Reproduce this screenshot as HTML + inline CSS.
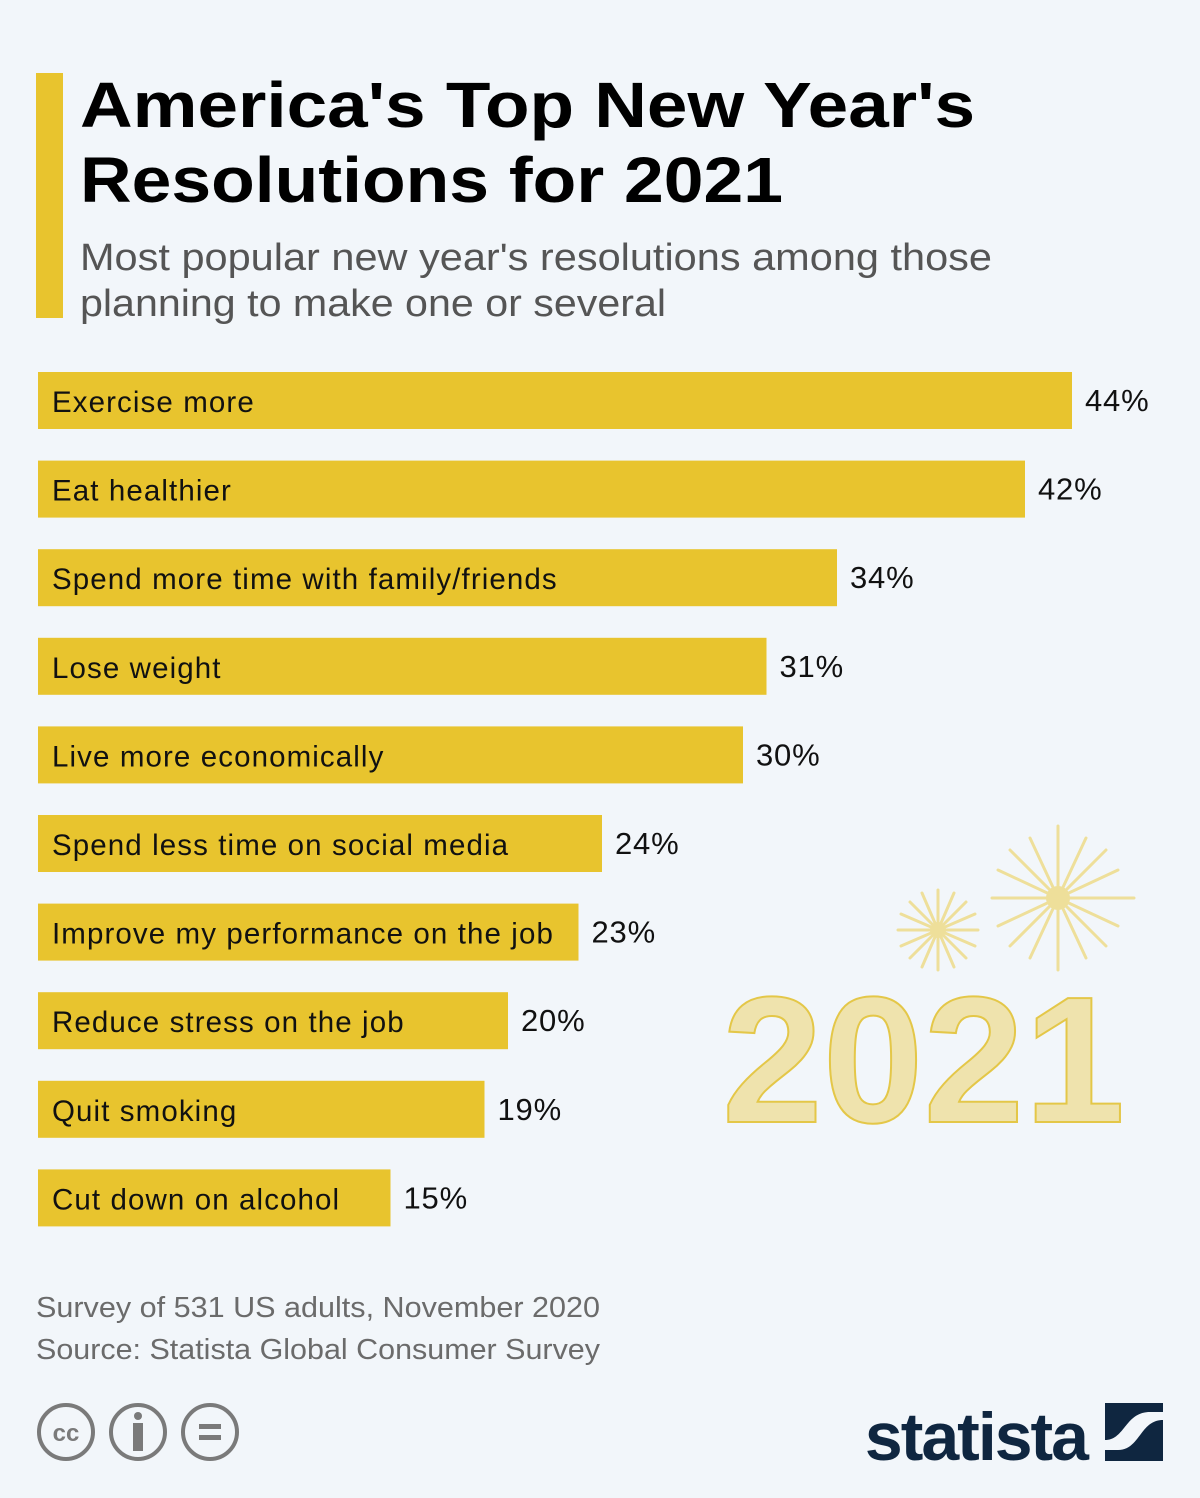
<!DOCTYPE html>
<html><head><meta charset="utf-8"><style>
html,body{margin:0;padding:0;background:#f2f6fa;}
svg{display:block;}
text{font-family:"Liberation Sans","DejaVu Sans",sans-serif;}
</style></head><body>
<svg id="chart" width="1200" height="1498" viewBox="0 0 1200 1498" xmlns="http://www.w3.org/2000/svg">
<rect x="0" y="0" width="1200" height="1498" fill="#f2f6fa"/>
<rect x="36" y="73" width="27" height="245" fill="#e8c42e"/>
<text x="80" y="127" font-size="64" font-weight="bold" fill="#000" textLength="895" lengthAdjust="spacingAndGlyphs">America's Top New Year's</text>
<text x="80" y="202" font-size="64" font-weight="bold" fill="#000" textLength="703" lengthAdjust="spacingAndGlyphs">Resolutions for 2021</text>
<text x="80" y="270" font-size="38" fill="#555" textLength="912" lengthAdjust="spacingAndGlyphs">Most popular new year's resolutions among those</text>
<text x="80" y="316" font-size="38" fill="#555" textLength="586" lengthAdjust="spacingAndGlyphs">planning to make one or several</text>

<g opacity="0.85">
  <g stroke="#eedc8a" stroke-width="3" stroke-linecap="round">
    <circle cx="938" cy="930" r="8" fill="#eedc8a" stroke="none"/>
    <line x1="938" y1="890" x2="938" y2="970"/><line x1="898" y1="930" x2="978" y2="930"/>
    <line x1="910" y1="902" x2="966" y2="958"/><line x1="966" y1="902" x2="910" y2="958"/>
    <line x1="922" y1="893" x2="954" y2="967"/><line x1="954" y1="893" x2="922" y2="967"/>
    <line x1="901" y1="914" x2="975" y2="946"/><line x1="975" y1="914" x2="901" y2="946"/>
  </g>
  <g stroke="#eedc8a" stroke-width="3" stroke-linecap="round">
    <circle cx="1058" cy="898" r="12" fill="#eedc8a" stroke="none"/>
    <line x1="1058" y1="826" x2="1058" y2="970"/><line x1="992" y1="898" x2="1134" y2="898"/>
    <line x1="1010" y1="850" x2="1106" y2="946"/><line x1="1106" y1="850" x2="1010" y2="946"/>
    <line x1="1030" y1="838" x2="1086" y2="958"/><line x1="1086" y1="838" x2="1030" y2="958"/>
    <line x1="998" y1="870" x2="1118" y2="926"/><line x1="1118" y1="870" x2="998" y2="926"/>
  </g>
  <text x="722" y="1122" font-size="180" font-weight="bold" fill="#efe0a0" stroke="#e2bf2a" stroke-width="2" textLength="403" lengthAdjust="spacingAndGlyphs">2021</text>
</g>

<g id="bars"></g>

<text x="36" y="1317" font-size="29" fill="#6b6b6b" textLength="564" lengthAdjust="spacingAndGlyphs">Survey of 531 US adults, November 2020</text>
<text x="36" y="1359" font-size="29" fill="#6b6b6b" textLength="564" lengthAdjust="spacingAndGlyphs">Source: Statista Global Consumer Survey</text>

<g fill="none" stroke="#7a7a7a" stroke-width="4">
  <circle cx="66" cy="1432" r="27"/>
  <text x="66" y="1441" text-anchor="middle" font-size="24" font-weight="bold" fill="#7a7a7a" stroke="none">cc</text>
  <circle cx="138" cy="1432" r="27"/>
  <circle cx="138" cy="1416" r="4" fill="#7a7a7a" stroke="none"/>
  <rect x="133" y="1423" width="10" height="28" fill="#7a7a7a" stroke="none"/>
  <circle cx="210" cy="1432" r="27"/>
  <rect x="199" y="1424" width="22" height="5" fill="#7a7a7a" stroke="none"/>
  <rect x="199" y="1435" width="22" height="5" fill="#7a7a7a" stroke="none"/>
</g>
<text x="1087" y="1460" text-anchor="end" font-size="68" font-weight="bold" fill="#0f2640" letter-spacing="-2">statista</text>
<g>
  <rect x="1105" y="1403" width="58" height="58" fill="#0f2640"/>
  <path d="M1105 1440 C1125 1440 1125 1412 1150 1412 L1163 1412 L1163 1420 C1140 1420 1140 1450 1118 1450 L1105 1450 Z" fill="#f2f6fa"/>
</g>
</svg>
<script>
const categories = ["Exercise more","Eat healthier","Spend more time with family/friends","Lose weight","Live more economically","Spend less time on social media","Improve my performance on the job","Reduce stress on the job","Quit smoking","Cut down on alcohol"];
const values = [44,42,34,31,30,24,23,20,19,15];
const valueLabels = ["44%","42%","34%","31%","30%","24%","23%","20%","19%","15%"];

const NS = "http://www.w3.org/2000/svg";
const g = document.getElementById("bars");
const x0 = 38, pxPerUnit = 23.5;
const yTop = 372, step = 88.6, barH = 57;
function xScale(v){ return x0 + v * pxPerUnit; }
function yScale(i){ return yTop + i * step; }
categories.forEach((c, i) => {
  const y = yScale(i);
  const r = document.createElementNS(NS, "rect");
  r.setAttribute("x", x0);
  r.setAttribute("y", y);
  r.setAttribute("width", xScale(values[i]) - x0);
  r.setAttribute("height", barH);
  r.setAttribute("fill", "#e8c42e");
  
  
  g.appendChild(r);
  const t = document.createElementNS(NS, "text");
  t.setAttribute("x", 52);
  t.setAttribute("y", y + 40);
  t.setAttribute("font-size", "29.5");
  t.setAttribute("letter-spacing", "1.1");
  t.setAttribute("fill", "#111");
  t.textContent = c;
  
  
  g.appendChild(t);
  const v = document.createElementNS(NS, "text");
  v.setAttribute("x", xScale(values[i]) + 13);
  v.setAttribute("y", y + 39);
  v.setAttribute("font-size", "31");
  v.setAttribute("letter-spacing", "0.8");
  v.setAttribute("fill", "#111");
  v.textContent = valueLabels[i];
  
  
  g.appendChild(v);
});
</script>
</body></html>
